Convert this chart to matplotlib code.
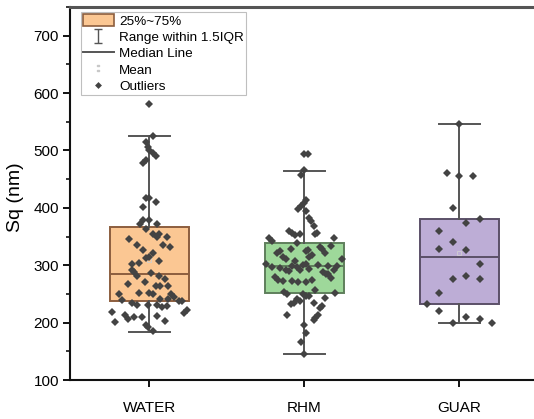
import numpy as np
import matplotlib
matplotlib.use("Agg")
import matplotlib.pyplot as plt
from matplotlib.patches import Patch
from matplotlib.lines import Line2D
from matplotlib.path import Path

plt.rcParams['font.family'] = ['Liberation Sans', 'DejaVu Sans']

categories = ["WATER", "RHM", "GUAR"]

# box statistics: lower whisker, q1, median, q3, upper whisker
box_low = [184, 145, 200]
box_q1 = [237, 252, 232]
box_med = [285, 299, 314]
box_q3 = [367, 338, 380]
box_high = [525, 465, 546]

water_values = [581, 525, 514, 506, 501, 495, 491, 484, 479, 417, 418, 410, 401, 371, 378,
                378, 371, 363, 354, 350, 354, 346, 349, 335, 335, 332, 327, 321, 315, 312,
                308, 303, 304, 292, 288, 287, 281, 281, 276, 271, 268, 264, 264, 264, 252,
                252, 250, 250, 240, 250, 244, 238, 237, 241, 241, 234, 231, 231, 231, 228,
                229, 222, 216, 218, 214, 206, 209, 209, 212, 201, 203, 195, 192, 185]
water_jitter = [0.00, 0.02, -0.02, -0.01, 0.00, 0.02, 0.04, -0.02, -0.04, -0.02, 0.00, 0.04,
                -0.04, -0.06, -0.04, 0.00, 0.05, -0.02, 0.02, 0.05, 0.06, -0.13, 0.11, -0.08,
                0.09, 0.13, -0.04, 0.02, 0.00, -0.02, 0.06, -0.11, -0.07, -0.11, -0.10, 0.01,
                -0.08, 0.06, 0.10, -0.03, -0.14, 0.04, 0.07, 0.12, -0.07, 0.00, 0.02, -0.20,
                -0.18, 0.14, 0.16, 0.19, 0.21, 0.12, 0.07, -0.11, -0.08, -0.01, 0.05, 0.08,
                0.11, 0.24, 0.22, -0.24, -0.16, -0.14, -0.10, -0.05, 0.05, -0.22, 0.10, -0.02,
                -0.01, 0.02]

rhm_values = [494, 494, 466, 458, 414, 409, 403, 398, 394, 382, 377, 369, 356, 354, 359,
              356, 352, 354, 347, 342, 338, 347, 334, 331, 329, 325, 327, 328, 325, 321,
              321, 314, 311, 318, 314, 303, 297, 307, 311, 301, 303, 299, 297, 301, 299,
              299, 295, 291, 291, 290, 293, 288, 285, 284, 291, 280, 275, 277, 273, 273,
              270, 271, 275, 257, 252, 254, 250, 250, 241, 237, 233, 235, 247, 246, 243,
              234, 229, 225, 214, 214, 208, 205, 195, 182, 167, 145]
rhm_jitter = [0.00, 0.02, 0.00, -0.02, 0.01, 0.00, -0.02, -0.04, 0.01, 0.03, 0.04, 0.06,
              0.08, 0.07, -0.10, -0.08, -0.06, -0.03, -0.23, -0.21, -0.05, 0.19, 0.17, 0.10,
              0.11, 0.01, 0.02, -0.09, -0.16, -0.18, 0.13, -0.14, -0.12, 0.05, 0.03, -0.25,
              -0.21, -0.06, 0.24, -0.01, 0.01, -0.08, -0.05, 0.09, 0.15, 0.21, -0.16, -0.03,
              -0.12, -0.10, 0.03, 0.12, 0.14, 0.15, 0.19, -0.19, -0.17, 0.17, -0.14, -0.08,
              -0.04, 0.01, 0.05, 0.07, 0.20, -0.13, -0.11, -0.01, -0.05, -0.03, -0.09, -0.07,
              0.01, 0.03, 0.13, 0.06, 0.11, 0.10, -0.11, 0.09, 0.07, 0.06, 0.00, 0.01,
              -0.02, 0.00]

guar_values = [546, 460, 455, 455, 400, 373, 380, 359, 340, 328, 327, 302, 276, 282, 276,
               252, 232, 221, 210, 206, 200, 199]
guar_jitter = [0.00, -0.08, 0.00, 0.09, -0.04, 0.04, 0.13, -0.13, -0.04, -0.13, 0.04, 0.13,
               -0.04, 0.04, 0.13, -0.13, -0.21, -0.13, 0.04, 0.13, -0.04, 0.21]

face_colors = ["#FBC793", "#9ED89A", "#BDADD6"]
edge_colors = ["#8C5E3E", "#5F7F5C", "#5B5068"]
whisker_color = "#555555"
point_color = "#434343"

fig = plt.figure(figsize=(5.34, 4.19), dpi=100)
ax = fig.add_axes([70 / 534, 39 / 419, 470 / 534, 373 / 419])

positions = [1, 2, 3]
stats = []
for i, c in enumerate(categories):
    stats.append(dict(label=c, whislo=box_low[i], q1=box_q1[i], med=box_med[i],
                      q3=box_q3[i], whishi=box_high[i], fliers=[]))

for i in range(3):
    ax.bxp([stats[i]], positions=[positions[i]], widths=0.51, patch_artist=True,
           showfliers=False, manage_ticks=False,
           boxprops=dict(facecolor=face_colors[i], edgecolor=edge_colors[i], linewidth=1.4),
           medianprops=dict(color=edge_colors[i], linewidth=1.4),
           whiskerprops=dict(color=whisker_color, linewidth=1.4),
           capprops=dict(color=whisker_color, linewidth=1.4),
           capwidths=0.26, zorder=2)

all_vals = [water_values, rhm_values, guar_values]
all_jit = [water_jitter, rhm_jitter, guar_jitter]
for i in range(3):
    xs = positions[i] + np.array(all_jit[i])
    ax.plot(xs, all_vals[i], linestyle='none', marker='D', markersize=4.2,
            color=point_color, markeredgewidth=0, zorder=4)
    ax.plot([positions[i]], [np.mean(all_vals[i])], linestyle='none', marker='s',
            markersize=2.5, markerfacecolor='none', markeredgecolor='#cfcfcf',
            markeredgewidth=0.6, zorder=3)

ax.set_xlim(0.487, 3.52)
ax.set_ylim(100, 750)
ax.set_xticks(positions)
ax.set_xticklabels(categories, fontsize=11)
ax.set_yticks(np.arange(100, 701, 100))
ax.set_yticks(np.arange(150, 751, 100), minor=True)
ax.tick_params(axis='y', which='major', length=5, width=1.3, labelsize=11, pad=3)
ax.tick_params(axis='y', which='minor', length=3, width=1.1)
ax.tick_params(axis='x', which='major', length=5, width=1.3, pad=10)

for s in ['left', 'bottom']:
    ax.spines[s].set_linewidth(1.5)
    ax.spines[s].set_color('#111111')
ax.spines['top'].set_linewidth(2.2)
ax.spines['top'].set_color('#555555')
ax.spines['right'].set_visible(False)

ax.set_ylabel("Sq (nm)", fontsize=14)
ax.yaxis.set_label_coords(-0.098, 0.49)

cap_path = Path([(-0.6, 1), (0.6, 1), (0, 1), (0, -1), (-0.6, -1), (0.6, -1)],
                [Path.MOVETO, Path.LINETO, Path.MOVETO, Path.LINETO, Path.MOVETO, Path.LINETO])
handles = [
    Patch(facecolor=face_colors[0], edgecolor=edge_colors[0], linewidth=1.2),
    Line2D([], [], linestyle='none', marker=cap_path, markersize=10,
           markeredgecolor='#555555', markerfacecolor='none', markeredgewidth=1.0),
    Line2D([], [], color='#555555', linewidth=1.4),
    Line2D([], [], linestyle='none', marker='$:$', markersize=5, color='#c8c8c8'),
    Line2D([], [], linestyle='none', marker='D', markersize=3.5, color=point_color,
           markeredgewidth=0),
]
labels = ["25%~75%", "Range within 1.5IQR", "Median Line", "Mean", "Outliers"]
leg = ax.legend(handles, labels, loc='upper left', bbox_to_anchor=(0.023, 0.987),
                borderaxespad=0, fontsize=9.7, frameon=True, fancybox=False,
                edgecolor='#b0b0b0', handlelength=2.3, handleheight=1.0,
                handletextpad=0.4, labelspacing=0.2, borderpad=0.15)
leg.get_frame().set_linewidth(0.8)

fig.savefig("out.png", dpi=100)
